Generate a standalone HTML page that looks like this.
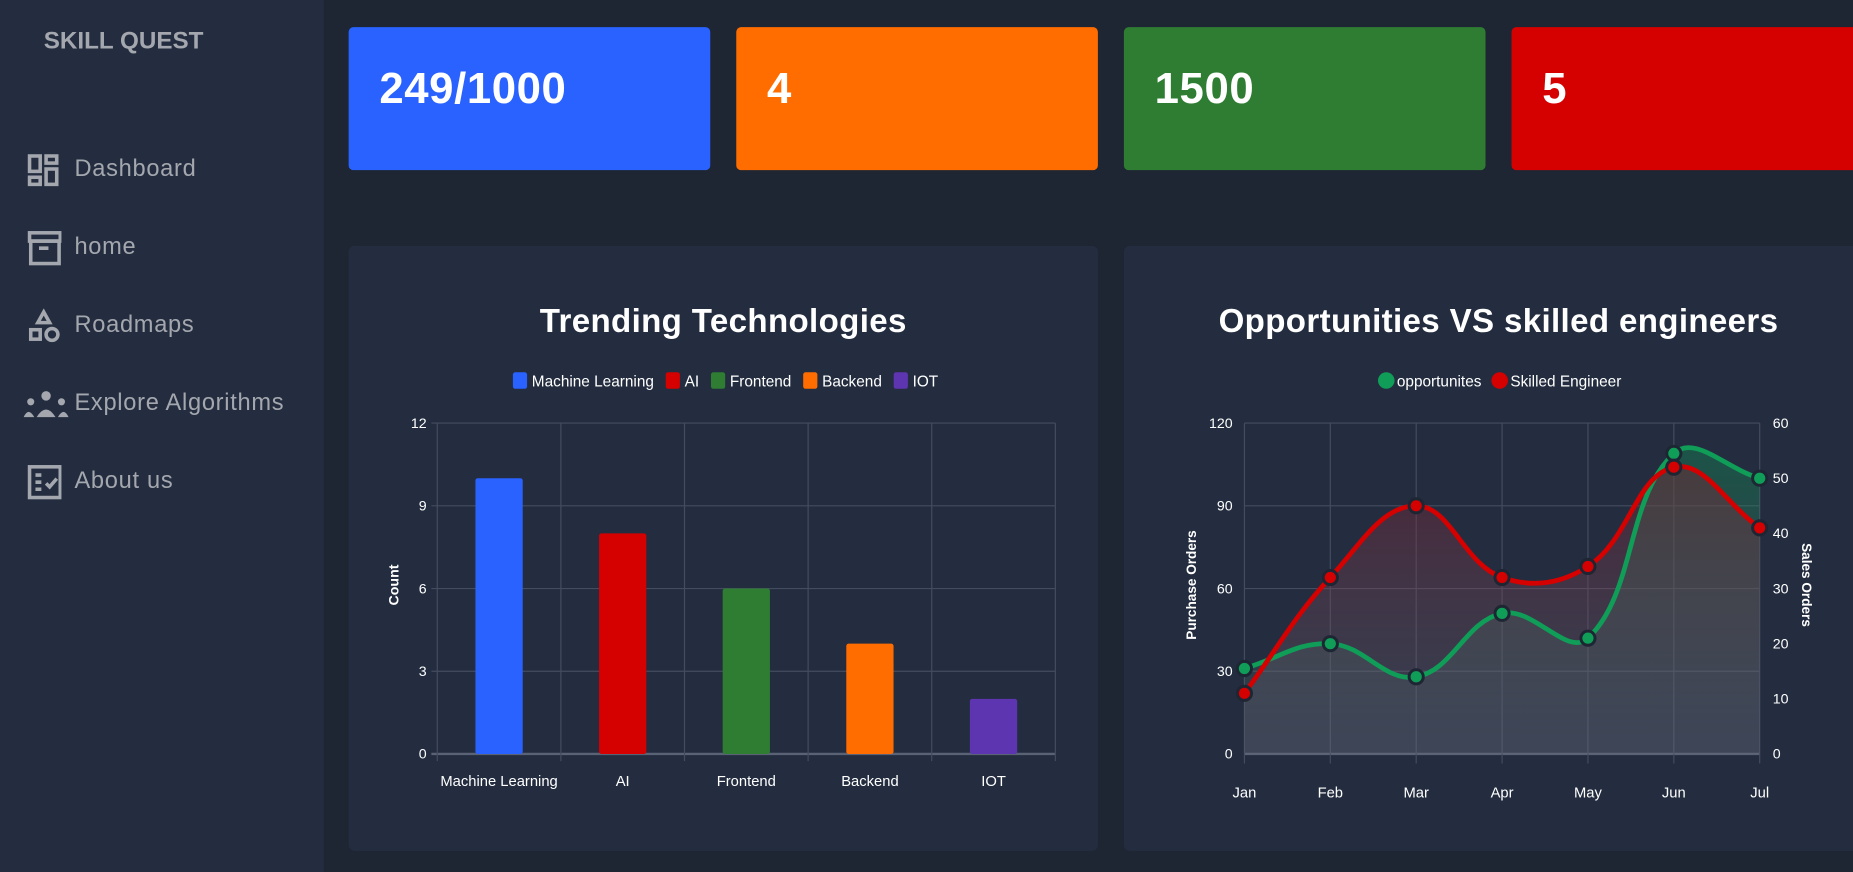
<!DOCTYPE html>
<html><head><meta charset="utf-8"><style>
html,body{margin:0;padding:0;width:1853px;height:872px;overflow:hidden;background:#1e2533;font-family:"Liberation Sans",sans-serif;}
#wrap{position:absolute;left:0;top:0;width:1568px;height:738px;transform:scale(1.1818);transform-origin:0 0;}
.side{position:absolute;left:0;top:0;width:274px;height:738px;background:#232d3f;}
.brand{position:absolute;left:37px;top:23px;font-weight:bold;font-size:20.5px;color:#a4a7ae;}
.nav{position:absolute;left:20px;height:30px;width:254px;color:#a4a7ae;font-size:20px;letter-spacing:0.6px;}
.nav span{position:absolute;left:43px;top:3px;white-space:nowrap;}
.nav svg{position:absolute;left:2px;top:0;}
.card{position:absolute;top:23px;height:121px;width:306px;border-radius:4px;}
.card div{position:absolute;left:26px;top:31px;font-size:37px;font-weight:bold;color:#fff;letter-spacing:0.5px;}
.panel{position:absolute;top:208px;height:512px;width:634px;background:#232d3f;border-radius:5px;}
</style></head><body>
<div id="wrap">
<div class="side">
<div class="brand">SKILL QUEST</div>
<div class="nav" style="top:129px"><svg width="30" height="30" viewBox="0 0 30 30" fill="none" stroke="#a4a7ae" stroke-width="3"><rect x="3" y="3" width="9" height="13"/><rect x="17" y="3" width="9" height="6"/><rect x="3" y="21" width="9" height="6"/><rect x="17" y="14" width="9" height="13"/></svg><span>Dashboard</span></div>
<div class="nav" style="top:195px"><svg width="30" height="30" viewBox="0 0 30 30" fill="none" stroke="#a4a7ae" stroke-width="3"><rect x="3" y="2" width="26" height="7"/><rect x="4" y="9" width="24" height="19"/><line x1="11" y1="15" x2="19" y2="15"/></svg><span>home</span></div>
<div class="nav" style="top:261px"><svg width="30" height="30" viewBox="0 0 30 30" fill="none" stroke="#a4a7ae" stroke-width="3"><path d="M15 3 L20 12 L10 12 Z"/><rect x="4" y="18" width="8" height="8"/><circle cx="22" cy="22" r="5"/></svg><span>Roadmaps</span></div>
<div class="nav" style="top:327px"><svg width="40" height="30" viewBox="0 0 40 30" fill="#a4a7ae" style="left:0"><circle cx="19" cy="8" r="4"/><circle cx="6" cy="13" r="3"/><circle cx="32" cy="13" r="3"/><path d="M11 26 Q19 13 27 26 Z"/><path d="M0 26 Q4 17 9 26Z"/><path d="M29 26 Q34 17 38 26Z"/></svg><span>Explore Algorithms</span></div>
<div class="nav" style="top:393px"><svg width="30" height="30" viewBox="0 0 30 30" fill="none" stroke="#a4a7ae" stroke-width="3"><rect x="3" y="2" width="26" height="26"/><line x1="8" y1="9" x2="13" y2="9"/><line x1="8" y1="15" x2="13" y2="15"/><line x1="8" y1="21" x2="13" y2="21"/><path d="M17 16 L20 19 L26 12"/></svg><span>About us</span></div>
</div>
<div class="card" style="left:295px;background:#2962ff"><div>249/1000</div></div>
<div class="card" style="left:623px;background:#ff6d00"><div>4</div></div>
<div class="card" style="left:951px;background:#2e7d32"><div>1500</div></div>
<div class="card" style="left:1279px;background:#d50000"><div>5</div></div>
<div class="panel" style="left:295px"></div>
<div class="panel" style="left:951px"></div>
<svg id="charts" width="1568" height="738" style="position:absolute;left:0;top:0" font-family="Liberation Sans, sans-serif">
<defs>
<linearGradient id="gg" x1="0" y1="0" x2="0" y2="1"><stop offset="0" stop-color="#0f9d58" stop-opacity="0.35"/><stop offset="1" stop-color="#5a5f70" stop-opacity="0.2"/></linearGradient>
<linearGradient id="rg" x1="0" y1="0" x2="0" y2="1"><stop offset="0" stop-color="#7a2030" stop-opacity="0.45"/><stop offset="1" stop-color="#6a6f80" stop-opacity="0.25"/></linearGradient>
</defs>
<text x="612" y="281" text-anchor="middle" font-size="28" font-weight="bold" fill="#fff" letter-spacing="0.3">Trending Technologies</text>
<text x="1268" y="281" text-anchor="middle" font-size="28" font-weight="bold" fill="#fff" letter-spacing="0.3">Opportunities VS skilled engineers</text>
<g id="bar"></g><g id="line"></g>
</svg>
</div>
<script>
const barCats=["Machine Learning","AI","Frontend","Backend","IOT"];
const barVals=[10,8,6,4,2];
const barColors=["#2962ff","#d50000","#2e7d32","#ff6d00","#5e35b1"];
const barTicks=[0,3,6,9,12];
const months=["Jan","Feb","Mar","Apr","May","Jun","Jul"];
const oppVals=[31,40,28,51,42,109,100];
const engVals=[11,32,45,32,34,52,41];
const leftTicks=[0,30,60,90,120];
const rightTicks=[0,10,20,30,40,50,60];
const NS="http://www.w3.org/2000/svg";
function mk(p,t,a,txt){const e=document.createElementNS(NS,t);for(const k in a)e.setAttribute(k,a[k]);if(txt!==undefined)e.textContent=txt;p.appendChild(e);return e;}
// bar chart
const bg=document.getElementById('bar');
const bx0=370,bx1=893,by0=638,by1=358;
const bY=v=>by0-(v/12)*(by0-by1);
const bw=(bx1-bx0)/barCats.length;
const bX=i=>bx0+bw*(i+0.5);
barTicks.forEach(t=>{mk(bg,'line',{x1:bx0-5,x2:bx1,y1:bY(t),y2:bY(t),stroke:t==0?'#5a6275':'#444d60','stroke-width':t==0?2:1});
 const l=mk(bg,'text',{x:bx0-9,y:bY(t)+4,'text-anchor':'end','font-size':12,fill:'#fff'},t);
 });
for(let i=0;i<=barCats.length;i++)mk(bg,'line',{x1:bx0+bw*i,x2:bx0+bw*i,y1:by1,y2:by0+6,stroke:'#444d60'});
barCats.forEach((c,i)=>{
 const r=mk(bg,'rect',{x:bX(i)-20,y:bY(barVals[i]),width:40,height:by0-bY(barVals[i]),fill:barColors[i],rx:2});
 
 const t=mk(bg,'text',{x:bX(i),y:665,'text-anchor':'middle','font-size':12.5,fill:'#fff'},c);
 
});
const cnt=mk(bg,'text',{x:0,y:0,transform:'translate(337,495) rotate(-90)','text-anchor':'middle','font-size':12,'font-weight':'bold',fill:'#fff'},'Count');

let lx=434;
barCats.forEach((c,i)=>{
 const g=mk(bg,'g',{});
 mk(g,'rect',{x:lx,y:315,width:12,height:14,fill:barColors[i],rx:2});
 const t=mk(g,'text',{x:lx+16,y:327,'font-size':13,fill:'#fff'},c);
 lx+=16+t.getComputedTextLength()+10;
});
// line chart
const lg=document.getElementById('line');
const lx0=1053,lx1=1489,ly0=638,ly1=358;
const X=i=>lx0+i*(lx1-lx0)/(months.length-1);
const YL=v=>ly0-(v/120)*(ly0-ly1);
const YR=v=>ly0-(v/60)*(ly0-ly1);
leftTicks.forEach(t=>{mk(lg,'line',{x1:lx0,x2:lx1,y1:YL(t),y2:YL(t),stroke:t==0?'#5a6275':'#444d60','stroke-width':t==0?2:1});
 const l=mk(lg,'text',{x:lx0-10,y:YL(t)+4,'text-anchor':'end','font-size':12,fill:'#fff'},t);
 });
rightTicks.forEach(t=>{const l=mk(lg,'text',{x:lx1+11,y:YR(t)+4,'font-size':12,fill:'#fff'},t);
 });
months.forEach((m,i)=>{mk(lg,'line',{x1:X(i),x2:X(i),y1:ly1,y2:ly0+8,stroke:'#444d60'});
 const t=mk(lg,'text',{x:X(i),y:675,'text-anchor':'middle','font-size':12.5,fill:'#fff'},m);
 });
function path(pts){
 const T=0.4,cps=[];
 const cl=(v,a,b)=>Math.max(a,Math.min(b,v));
 for(let i=0;i<pts.length;i++){const p0=pts[i-1]||pts[i],p1=pts[i],p2=pts[i+1]||pts[i];
  const d01=Math.hypot(p1[0]-p0[0],p1[1]-p0[1]),d12=Math.hypot(p2[0]-p1[0],p2[1]-p1[1]);
  let s01=d01/(d01+d12),s12=d12/(d01+d12);if(isNaN(s01))s01=0;if(isNaN(s12))s12=0;
  const fa=T*s01,fb=T*s12;
  cps.push({p:[cl(p1[0]-fa*(p2[0]-p0[0]),lx0,lx1),cl(p1[1]-fa*(p2[1]-p0[1]),ly1,ly0)],n:[cl(p1[0]+fb*(p2[0]-p0[0]),lx0,lx1),cl(p1[1]+fb*(p2[1]-p0[1]),ly1,ly0)]});}
 let d='M'+pts[0][0]+','+pts[0][1];
 for(let i=0;i<pts.length-1;i++){d+=' C'+cps[i].n[0]+','+cps[i].n[1]+' '+cps[i+1].p[0]+','+cps[i+1].p[1]+' '+pts[i+1][0]+','+pts[i+1][1];}
 return d;}
const gp=oppVals.map((v,i)=>[X(i),YL(v)]);
const rp=engVals.map((v,i)=>[X(i),YR(v)]);
mk(lg,'path',{d:path(gp)+' L'+lx1+','+ly0+' L'+lx0+','+ly0+'Z',fill:'url(#gg)'});
mk(lg,'path',{d:path(rp)+' L'+lx1+','+ly0+' L'+lx0+','+ly0+'Z',fill:'url(#rg)'});
const gl=mk(lg,'path',{d:path(gp),fill:'none',stroke:'#0f9d58','stroke-width':4});

const rl=mk(lg,'path',{d:path(rp),fill:'none',stroke:'#d50000','stroke-width':4});

[[gp,'#0f9d58','opportunities-point'],[rp,'#d50000','skilled-engineer-point']].forEach(([pts,c,n])=>pts.forEach(p=>{
 const e=mk(lg,'circle',{cx:p[0],cy:p[1],r:6,fill:c,stroke:'#1e2533','stroke-width':2.5});
 }));
const a1=mk(lg,'text',{x:0,y:0,transform:'translate(1012,495) rotate(-90)','text-anchor':'middle','font-size':11.5,'font-weight':'bold',fill:'#fff'},'Purchase Orders');

const a2=mk(lg,'text',{x:0,y:0,transform:'translate(1525,495) rotate(90)','text-anchor':'middle','font-size':11.5,'font-weight':'bold',fill:'#fff'},'Sales Orders');

const l1=mk(lg,'g',{});
mk(l1,'circle',{cx:1173,cy:322,r:7,fill:'#0f9d58'});mk(l1,'text',{x:1182,y:327,'font-size':13,fill:'#fff'},'opportunites');
const l2=mk(lg,'g',{});
mk(l2,'circle',{cx:1269,cy:322,r:7,fill:'#d50000'});mk(l2,'text',{x:1278,y:327,'font-size':13,fill:'#fff'},'Skilled Engineer');
</script>
</body></html>
